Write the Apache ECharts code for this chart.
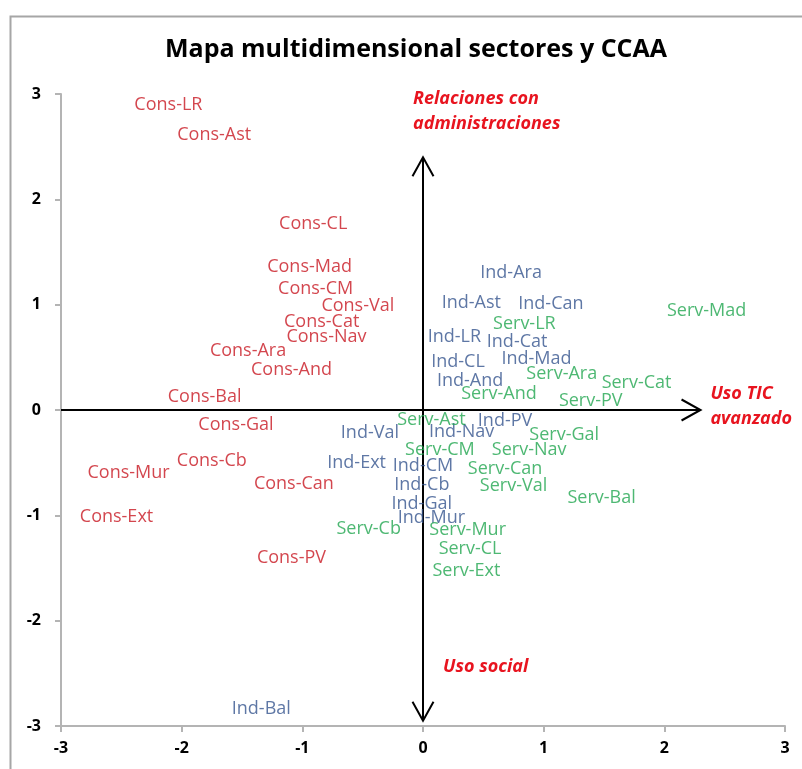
<!DOCTYPE html>
<html>
<head>
<meta charset="utf-8">
<script src="https://cdn.jsdelivr.net/npm/echarts@6/dist/echarts.min.js"></script>
<style>
  html, body { margin: 0; padding: 0; background: #fff; }
  #chart { width: 802px; height: 769px; }
</style>
</head>
<body>
<div id="chart"></div>
<script>
// Construcción
const consNames = ["Cons-LR", "Cons-Ast", "Cons-CL", "Cons-Mad", "Cons-CM", "Cons-Val", "Cons-Cat", "Cons-Nav", "Cons-Ara",
  "Cons-And", "Cons-Bal", "Cons-Gal", "Cons-Cb", "Cons-Mur", "Cons-Can", "Cons-Ext", "Cons-PV"];
const consX = [-2.11, -1.73, -0.91, -0.94, -0.89, -0.54, -0.84, -0.80, -1.45, -1.09, -1.81, -1.55, -1.75, -2.44, -1.07, -2.54, -1.09];
const consY = [2.90, 2.61, 1.77, 1.36, 1.15, 0.99, 0.84, 0.69, 0.56, 0.38, 0.12, -0.14, -0.48, -0.60, -0.70, -1.01, -1.40];

// Industria
const indNames = ["Ind-Ara", "Ind-Ast", "Ind-Can", "Ind-LR", "Ind-Cat", "Ind-CL", "Ind-Mad", "Ind-And", "Ind-PV",
  "Ind-Nav", "Ind-Val", "Ind-Ext", "Ind-CM", "Ind-Cb", "Ind-Gal", "Ind-Mur", "Ind-Bal"];
const indX = [0.73, 0.40, 1.06, 0.26, 0.78, 0.29, 0.94, 0.39, 0.68, 0.32, -0.44, -0.55, 0.00, -0.01, -0.01, 0.07, -1.34];
const indY = [1.30, 1.02, 1.01, 0.69, 0.65, 0.46, 0.49, 0.28, -0.10, -0.21, -0.22, -0.50, -0.53, -0.71, -0.89, -1.02, -2.84];

// Servicios
const servNames = ["Serv-Mad", "Serv-LR", "Serv-Ara", "Serv-Cat", "Serv-And", "Serv-PV", "Serv-Ast", "Serv-Gal", "Serv-CM",
  "Serv-Nav", "Serv-Can", "Serv-Val", "Serv-Bal", "Serv-Cb", "Serv-Mur", "Serv-CL", "Serv-Ext"];
const servX = [2.35, 0.84, 1.15, 1.77, 0.63, 1.39, 0.07, 1.17, 0.14, 0.88, 0.68, 0.75, 1.48, -0.45, 0.37, 0.39, 0.36];
const servY = [0.94, 0.82, 0.34, 0.26, 0.15, 0.09, -0.09, -0.24, -0.38, -0.38, -0.56, -0.72, -0.83, -1.13, -1.14, -1.32, -1.53];

// flechas de los ejes: x1, y1, x2, y2, punta al inicio, punta al final
const axisArrows = [
  [-3, 0, 2.3, 0, 0, 1],
  [0, -2.95, 0, 2.4, 1, 1]
];

const FONT = "Open Sans";

function points(names, xs, ys) {
  return names.map((n, i) => ({ name: n, value: [xs[i], ys[i]] }));
}

function labelSeries(name, data, color) {
  return {
    name: name,
    type: "scatter",
    data: data,
    symbolSize: 1,
    itemStyle: { color: "rgba(0,0,0,0)" },
    z: 3,
    label: {
      show: true,
      position: "inside",
      formatter: "{b}",
      color: color,
      fontFamily: FONT,
      fontSize: 18
    }
  };
}

function renderArrow(params, api) {
  const p1 = api.coord([api.value(0), api.value(1)]);
  const p2 = api.coord([api.value(2), api.value(3)]);
  const children = [{
    type: "line",
    shape: { x1: p1[0], y1: p1[1], x2: p2[0], y2: p2[1] },
    style: { stroke: "#000", lineWidth: 2 }
  }];
  const head = (tip, from) => {
    const dx = tip[0] - from[0], dy = tip[1] - from[1];
    const len = Math.hypot(dx, dy);
    const ux = dx / len, uy = dy / len;
    const L = 19, W = 10.5;
    const bx = tip[0] - ux * L, by = tip[1] - uy * L;
    return {
      type: "polyline",
      shape: { points: [[bx - uy * W, by + ux * W], tip, [bx + uy * W, by - ux * W]] },
      style: { stroke: "#000", lineWidth: 2, fill: null }
    };
  };
  if (api.value(4)) children.push(head(p1, p2));
  if (api.value(5)) children.push(head(p2, p1));
  return { type: "group", children: children };
}

const chart = echarts.init(document.getElementById("chart"));

const axisCommon = {
  type: "value",
  min: -3,
  max: 3,
  interval: 1,
  splitLine: { show: false },
  axisLine: { show: true, onZero: false, lineStyle: { color: "#b4b4b4", width: 2 } },
  axisTick: { show: true, length: 6, lineStyle: { color: "#b4b4b4", width: 2 } },
  axisLabel: { color: "#000", fontFamily: FONT, fontWeight: "bold", fontSize: 16 }
};

chart.setOption({
  animation: false,
  backgroundColor: "#fff",
  title: {
    text: "Mapa multidimensional sectores y CCAA",
    left: 411,
    top: 32,
    textAlign: "center",
    textStyle: { fontFamily: FONT, fontWeight: "bold", fontSize: 25, color: "#000" }
  },
  grid: { left: 61, right: 17, top: 94, bottom: 43 },
  xAxis: Object.assign({}, axisCommon, {
    axisLabel: Object.assign({}, axisCommon.axisLabel, { margin: 14 })
  }),
  yAxis: Object.assign({}, axisCommon, {
    axisLabel: Object.assign({}, axisCommon.axisLabel, { margin: 20 })
  }),
  graphic: [
    {
      type: "rect",
      left: 8,
      top: 14,
      shape: { width: 900, height: 900 },
      style: { fill: null, stroke: "#a6a6a6", lineWidth: 2 },
      z: -1
    },
    {
      type: "text",
      left: 413,
      top: 86,
      style: {
        text: "Relaciones con\nadministraciones",
        fill: "#e8141f",
        font: "italic bold 18px 'Open Sans'",
        lineHeight: 25
      }
    },
    {
      type: "text",
      left: 443,
      top: 658,
      style: { text: "Uso social", fill: "#e8141f", font: "italic bold 18px 'Open Sans'" }
    },
    {
      type: "text",
      right: 10,
      top: 381,
      style: {
        text: "Uso TIC\navanzado",
        fill: "#e8141f",
        font: "italic bold 18px 'Open Sans'",
        lineHeight: 25,
        align: "right"
      }
    }
  ],
  series: [
    {
      type: "custom",
      data: axisArrows,
      encode: { x: [0, 2], y: [1, 3] },
      renderItem: renderArrow,
      clip: false,
      silent: true,
      z: 2
    },
    labelSeries("Construcción", points(consNames, consX, consY), "#c81822"),
    labelSeries("Industria", points(indNames, indX, indY), "#36558f"),
    labelSeries("Servicios", points(servNames, servX, servY), "#22a650")
  ]
});
</script>
</body>
</html>
